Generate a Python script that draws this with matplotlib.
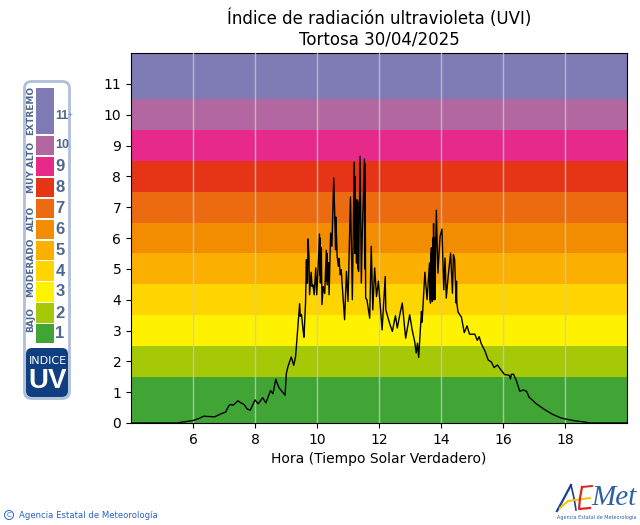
import matplotlib
matplotlib.use('Agg')
import matplotlib.pyplot as plt
from matplotlib.patches import Rectangle, FancyBboxPatch, Circle

# Curva UVI
hora = [4.0, 5.5, 5.6, 6.0, 6.2, 6.3, 6.35, 6.7, 6.8, 6.95, 7.05, 7.15, 7.2, 7.3, 7.45, 7.55, 7.65, 7.75, 7.85,
        8.0, 8.1, 8.25, 8.35, 8.5, 8.58, 8.67, 8.77, 8.85, 8.97, 9.01, 9.06, 9.17, 9.25, 9.31, 9.39, 9.44, 9.46,
        9.5, 9.55, 9.58, 9.63, 9.66, 9.67, 9.68, 9.69, 9.71, 9.74, 9.76, 9.81, 9.84, 9.87, 9.91, 9.96, 9.99,
        10.04, 10.08, 10.09, 10.10, 10.11, 10.14, 10.16, 10.2, 10.25, 10.3, 10.31, 10.32, 10.33, 10.37, 10.39,
        10.44, 10.48, 10.54, 10.6, 10.61, 10.65, 10.69, 10.71, 10.75, 10.78, 10.89, 10.95, 11.0, 11.08, 11.14,
        11.2, 11.22, 11.23, 11.27, 11.29, 11.30, 11.31, 11.32, 11.33, 11.34, 11.39, 11.43, 11.46, 11.53, 11.54,
        11.55, 11.57, 11.61, 11.7, 11.75, 11.8, 11.86, 11.92, 11.98, 12.1, 12.2, 12.22, 12.34, 12.43,
        12.53, 12.59, 12.67, 12.75, 12.86, 12.99, 13.07, 13.15, 13.2, 13.24, 13.28, 13.37, 13.39, 13.48, 13.55,
        13.63, 13.64, 13.65, 13.66, 13.67, 13.68, 13.69, 13.72, 13.74, 13.75, 13.76, 13.78, 13.79, 13.8, 13.85,
        13.9, 13.97, 14.03, 14.09, 14.13, 14.17, 14.23, 14.31, 14.37, 14.4, 14.44, 14.49, 14.5, 14.51, 14.55,
        14.66, 14.75, 14.84, 14.92, 15.09, 15.17, 15.23, 15.3, 15.42, 15.52,
        15.63, 15.71, 15.82, 15.95, 16.05, 16.2, 16.24, 16.27, 16.34, 16.43, 16.54, 16.65, 16.76, 16.84, 17.08,
        17.35, 17.62, 17.88, 18.26, 18.64, 18.8, 20.0]
uvi = [0.0, 0.0, 0.02, 0.08, 0.15, 0.2, 0.22, 0.2, 0.25, 0.32, 0.35, 0.55, 0.6, 0.58, 0.72, 0.65, 0.6, 0.45, 0.42,
       0.75, 0.62, 0.82, 0.65, 1.05, 0.95, 1.42, 1.15, 1.05, 0.9, 1.6, 1.82, 2.14, 1.87, 2.16, 3.19, 3.87, 3.46,
       3.52, 3.02, 2.78, 3.89, 5.3, 4.54, 5.3, 4.54, 5.97, 5.4, 4.16, 4.89, 4.43, 4.48, 4.16, 5.03, 4.16,
       5.13, 6.13, 4.8, 6.0, 4.54, 5.68, 3.84, 4.43, 4.2, 5.6, 4.6, 5.5, 4.48, 5.2, 4.16,
       6.16, 5.73, 7.95, 5.62, 6.68, 5.4, 5.08, 5.34, 4.81, 4.97, 3.35, 4.92, 3.94, 7.33, 4.0,
       8.46, 5.5, 8.0, 5.19, 7.24, 5.2, 7.2, 5.0, 7.0, 4.92, 8.65, 4.54, 6.1, 8.56, 5.0,
       8.4, 4.05, 4.0, 3.4, 5.73, 3.67, 5.03, 4.1, 4.6, 3.02, 4.75, 3.67, 3.24, 2.97,
       3.48, 3.08, 3.51, 3.89, 2.75, 3.51, 3.02, 2.65, 2.27, 2.59, 2.13, 3.62, 3.27, 4.89, 4.0,
       5.19, 4.0, 5.1, 3.89, 5.5, 4.0, 5.68, 3.94, 6.0, 4.0, 6.47, 4.0, 6.0, 4.0, 6.9,
       4.86, 6.05, 6.29, 4.32, 5.35, 4.05, 4.75, 5.51, 4.21, 5.46, 5.3, 3.89, 4.6, 3.89, 3.6,
       3.43, 2.93, 3.15, 2.88, 2.88, 2.68, 2.8, 2.57, 2.33, 2.05,
       1.97, 1.8, 1.88, 1.7, 1.57, 1.55, 1.43, 1.58, 1.58, 1.38, 1.03, 1.07, 1.03, 0.84, 0.62,
       0.43, 0.27, 0.16, 0.08, 0.03, 0.0, 0.0]

# Bandas de color del indice
limites = [0, 1.5, 2.5, 3.5, 4.5, 5.5, 6.5, 7.5, 8.5, 9.5, 10.5, 12]
colores = ['#40A535', '#A5C807', '#FFF200', '#FFD500', '#FBB000', '#F28C00',
           '#EC6A10', '#E63516', '#E72A8A', '#B367A0', '#7F7BB5']

# Leyenda lateral
etiquetas_uv = ['1', '2', '3', '4', '5', '6', '7', '8', '9', '10', '11']
tramos_y = [(324, 343), (303, 323), (282, 302), (261, 281), (241, 260), (220, 239),
            (199, 218), (178, 197), (157, 176), (136, 155), (88, 134)]
grupos = [('BAJO', 319), ('MODERADO', 267), ('ALTO', 218), ('MUY ALTO', 167), ('EXTREMO', 110)]

fig = plt.figure(figsize=(6.4, 5.25), dpi=100)
ax = fig.add_axes([131 / 640, 1 - 423 / 525, 496 / 640, 370 / 525])

for i in range(len(colores)):
    ax.axhspan(limites[i], limites[i + 1], color=colores[i], lw=0, zorder=1)

ax.grid(axis='x', color='#c8c8c8', lw=1, alpha=0.8, zorder=2)
ax.set_axisbelow(False)
ax.plot(hora, uvi, color='black', lw=1, zorder=3)

ax.set_xlim(4, 20)
ax.set_ylim(0, 12)
ax.set_xticks([6, 8, 10, 12, 14, 16, 18])
ax.set_yticks(range(0, 12))
ax.tick_params(labelsize=10)
ax.set_xlabel('Hora (Tiempo Solar Verdadero)', fontsize=10)
ax.set_title('Índice de radiación ultravioleta (UVI)\nTortosa 30/04/2025', fontsize=12)

# Capa en pixeles para leyenda y logos
ov = fig.add_axes([0, 0, 1, 1], facecolor='none')
ov.set_xlim(0, 640)
ov.set_ylim(525, 0)
ov.axis('off')

azul = '#4F6790'
ov.add_patch(FancyBboxPatch((28, 85), 38, 310, boxstyle='round,pad=3.5,rounding_size=7',
                            fc='white', ec='#AFC0D8', lw=2))
for c, (y0, y1), t in zip(colores, tramos_y, etiquetas_uv):
    ov.add_patch(Rectangle((36, y0), 18, y1 - y0, fc=c, ec='none'))
    if t in ('10', '11'):
        ov.text(55, (y0 + y1) / 2 + (0 if t == '10' else 5), t, color=azul, fontsize=9,
                family='Liberation Sans', weight='bold', va='center', ha='left')
    else:
        ov.text(60, (y0 + y1) / 2, t, color=azul, fontsize=12,
                family='Liberation Sans', weight='bold', va='center', ha='center')
ov.text(69.5, 114, '+', color=azul, fontsize=4.5, va='center', ha='center')
for t, y in grupos:
    ov.text(31, y, t, color=azul, fontsize=6.5, weight='bold', rotation=90, ha='center', va='center')

ov.add_patch(FancyBboxPatch((29, 351), 36, 43, boxstyle='round,pad=3,rounding_size=6', fc='#0F3F80', ec='none'))
ov.text(47.5, 361, 'INDICE', color='white', fontsize=8, ha='center', va='center')
ov.text(47.5, 381, 'UV', color='white', fontsize=20, weight='bold', ha='center', va='center',
        family='Liberation Sans')

# Pie: copyright y logo AEMET
ov.add_patch(Circle((9, 515), 4.5, fc='none', ec='#2A62C8', lw=0.7))
ov.text(9, 515, 'C', color='#2A62C8', fontsize=5, ha='center', va='center')
ov.text(19, 515, 'Agencia Estatal de Meteorología', color='#2A62C8', fontsize=6.1, va='center')

ov.plot([557, 563, 571], [511, 500, 485], color='#1B3F8F', lw=1.6)
ov.plot([571, 574, 576], [485, 498, 510], color='#1B3F8F', lw=1.2)
ov.plot([560, 568, 590], [508, 501, 498], color='#F2C200', lw=1.4)
ov.plot([582, 580, 579, 590], [487, 498, 509, 508], color='#D5281E', lw=1.6)
ov.plot([582, 592], [487, 486], color='#D5281E', lw=1.4)
ov.text(591, 498, 'Met', color='#2F5FA8', fontsize=21, style='italic', family='Liberation Serif',
        ha='left', va='center')
ov.text(597, 517, 'Agencia Estatal de Meteorología', color='#2F5FA8', fontsize=3.5, ha='center', va='center')

fig.savefig('out.png', dpi=100)
